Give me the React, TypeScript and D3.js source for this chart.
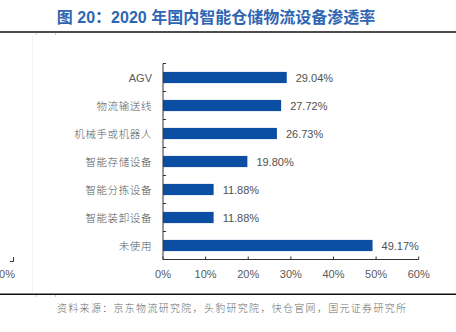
import React from "react";
import * as d3 from "d3";

const categories = ["AGV", "物流输送线", "机械手或机器人", "智能存储设备", "智能分拣设备", "智能装卸设备", "未使用"];
const values = [29.04, 27.72, 26.73, 19.8, 11.88, 11.88, 49.17];
const xTicks = [0, 10, 20, 30, 40, 50, 60];
const title = "图 20：2020 年国内智能仓储物流设备渗透率";
const source = "资料来源：京东物流研究院，头豹研究院，快仓官网，国元证券研究所";

const W = 456;
const H = 332;

export default function App() {
  const x = d3.scaleLinear().domain([0, 60]).range([163, 418.7]);
  const y = d3.scaleBand<string>().domain(categories).range([63.5, 259.5]).paddingInner(0.6).paddingOuter(0.3);
  const x0 = x(0);
  const yBottom = 259.5;
  const cjk = "'Noto Sans CJK SC', sans-serif";
  const latin = "'Liberation Sans', Arial, sans-serif";
  return (
    <svg width={W} height={H} style={{ position: "absolute", left: 0, top: 0, background: "#fff" }}>
      <rect x={0} y={0} width={W} height={H} fill="#fff" />
      {/* title */}
      <text x={216} y={23} textAnchor="middle" fontFamily={latin + ", " + cjk} fontWeight={700} fontSize={16} fill="#2f66b3">
        {title}
      </text>
      <line x1={0} x2={W} y1={32} y2={32} stroke="#111" strokeWidth={1.5} />
      <line x1={0} x2={W} y1={294.3} y2={294.3} stroke="#111" strokeWidth={1.5} />
      {/* faint artifacts */}
      <line x1={32.5} x2={32.5} y1={36} y2={292} stroke="#f3f3f3" strokeWidth={1} />
      <line x1={36.5} x2={36.5} y1={33} y2={35} stroke="#ccc" strokeWidth={1} />
      <line x1={55.5} x2={55.5} y1={33} y2={35} stroke="#ccc" strokeWidth={1} />
      <line x1={36.5} x2={36.5} y1={295} y2={297} stroke="#ccc" strokeWidth={1} />
      <line x1={55.5} x2={55.5} y1={295} y2={297} stroke="#ccc" strokeWidth={1} />
      <path d="M10,261.5 H13.5 V257" fill="none" stroke="#333" strokeWidth={1} />
      <text x={7} y={278} textAnchor="middle" fontFamily={latin} fontSize={11} fill="#595959">0%</text>
      {/* bars */}
      {categories.map((c, i) => (
        <g key={c}>
          <rect x={x0} y={y(c)} width={x(values[i]) - x0} height={y.bandwidth()} fill="#0b4ea2" />
          <text x={x(values[i]) + 9} y={(y(c) as number) + y.bandwidth() / 2 + 4} fontFamily={latin} fontSize={11} fill="#505050">
            {values[i].toFixed(2)}%
          </text>
          <text
            x={152}
            y={(y(c) as number) + y.bandwidth() / 2 + 4}
            textAnchor="end"
            fontFamily={c === "AGV" ? latin : cjk}
            fontWeight={c === "AGV" ? 400 : 300}
            fontSize={c === "AGV" ? 11 : 10.5}
            letterSpacing={c === "AGV" ? 0 : 0.6}
            fill="#595959"
          >
            {c}
          </text>
        </g>
      ))}
      {/* y axis */}
      <line x1={x0} x2={x0} y1={63.5} y2={yBottom} stroke="#333" strokeWidth={1} />
      {[63.5, ...categories.map((c) => (y(c) as number) + y.bandwidth() / 2 + y.step() / 2)].map((t, i) => (
        <line key={i} x1={x0} x2={x0 + 3} y1={t} y2={t} stroke="#333" strokeWidth={1} />
      ))}
      {/* x axis */}
      <line x1={x0} x2={x(60)} y1={yBottom} y2={yBottom} stroke="#333" strokeWidth={1} />
      {xTicks.map((t) => (
        <g key={t}>
          <line x1={x(t)} x2={x(t)} y1={yBottom} y2={yBottom - 3} stroke="#333" strokeWidth={1} />
          <text x={x(t)} y={277.5} textAnchor="middle" fontFamily={latin} fontSize={11} fill="#595959">
            {t}%
          </text>
        </g>
      ))}
      {/* source */}
      <text x={57} y={312} fontFamily={cjk} fontWeight={300} fontSize={10} letterSpacing={1.3} fill="#6a6a6a">
        {source}
      </text>
    </svg>
  );
}
